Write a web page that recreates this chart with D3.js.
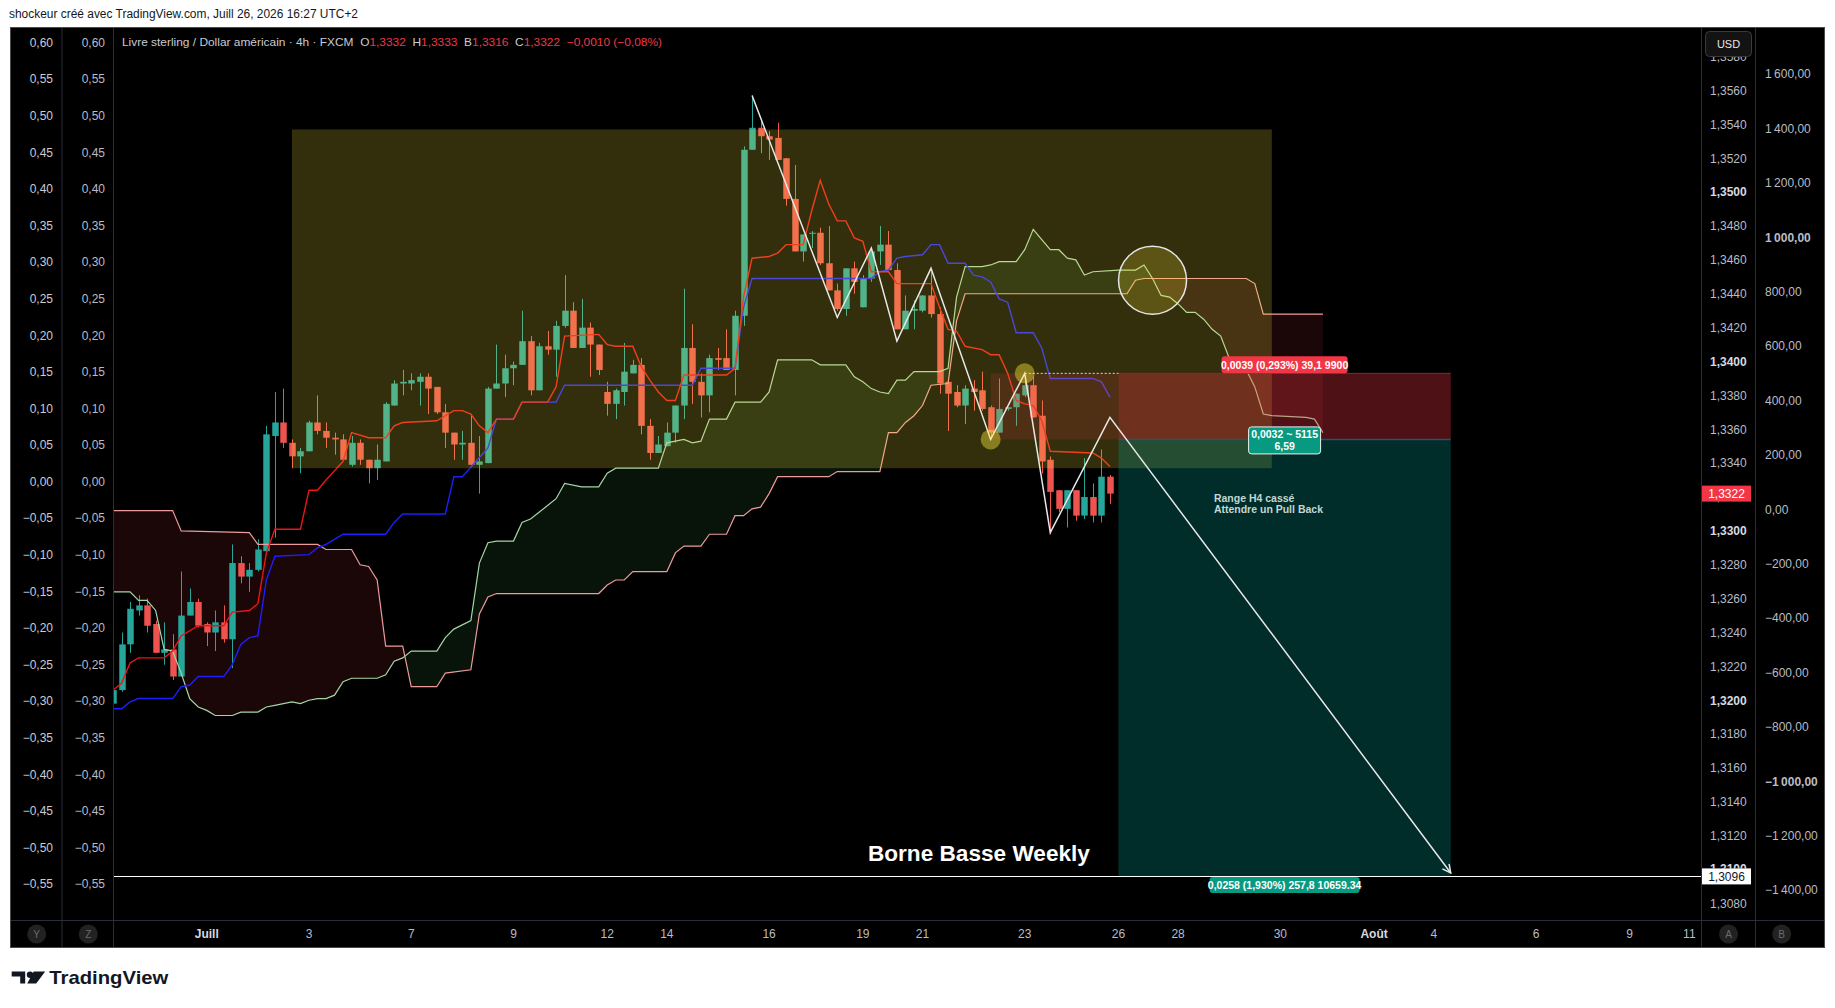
<!DOCTYPE html>
<html>
<head>
<meta charset="utf-8">
<script src="https://cdn.jsdelivr.net/npm/d3@7"></script>
<style>
  body { margin: 0; background: #fff; }
  text { font-family: "Liberation Sans", Arial, sans-serif; }
</style>
</head>
<body>
<svg id="chart"></svg>
<script>
// GBP/USD 4h candles, bar 0 = first visible bar; [open, high, low, close]
var candles = [
  [1.3198,1.3208,1.3193,1.3206],[1.3206,1.3240,1.3205,1.3233],[1.3233,1.3258,1.3228,1.3254],[1.3253,1.3262,1.3250,1.3256],
  [1.3256,1.3260,1.3240,1.3244],[1.3245,1.3247,1.3228,1.3228],[1.3228,1.3246,1.3221,1.3230],[1.3230,1.3239,1.3212,1.3214],
  [1.3214,1.3276,1.3214,1.3250],[1.3250,1.3266,1.3250,1.3258],[1.3258,1.3260,1.3243,1.3244],[1.3245,1.3246,1.3232,1.3240],
  [1.3240,1.3253,1.3229,1.3246],[1.3246,1.3256,1.3234,1.3236],[1.3236,1.3292,1.3219,1.3281],[1.3281,1.3285,1.3269,1.3273],
  [1.3273,1.3281,1.3264,1.3277],[1.3277,1.3295,1.3276,1.3289],[1.3288,1.3362,1.3286,1.3357],[1.3356,1.3382,1.3296,1.3364],
  [1.3364,1.3384,1.3349,1.3352],[1.3352,1.3354,1.3337,1.3344],[1.3344,1.3349,1.3334,1.3347],[1.3347,1.3365,1.3347,1.3364],
  [1.3364,1.3380,1.3357,1.3359],[1.3359,1.3364,1.3349,1.3355],[1.3355,1.3358,1.3345,1.3354],[1.3354,1.3357,1.3342,1.3342],
  [1.3339,1.3356,1.3338,1.3352],[1.3352,1.3354,1.3339,1.3342],[1.3342,1.3342,1.3328,1.3337],[1.3337,1.3351,1.3330,1.3342],
  [1.3341,1.3376,1.3341,1.3375],[1.3374,1.3389,1.3374,1.3387],[1.3387,1.3395,1.3380,1.3388],[1.3387,1.3393,1.3383,1.3389],
  [1.3388,1.3393,1.3374,1.3391],[1.3391,1.3393,1.3369,1.3384],[1.3385,1.3385,1.3369,1.3370],[1.3370,1.3375,1.3349,1.3358],
  [1.3358,1.3358,1.3342,1.3351],[1.3351,1.3359,1.3342,1.3352],[1.3352,1.3369,1.3339,1.3339],[1.3339,1.3356,1.3322,1.3341],
  [1.3340,1.3385,1.3340,1.3384],[1.3384,1.3410,1.3384,1.3387],[1.3387,1.3404,1.3379,1.3396],[1.3396,1.3400,1.3386,1.3398],
  [1.3398,1.3430,1.3398,1.3412],[1.3412,1.3415,1.3380,1.3383],[1.3383,1.3411,1.3383,1.3409],[1.3409,1.3418,1.3404,1.3407],
  [1.3407,1.3424,1.3391,1.3421],[1.3421,1.3451,1.3420,1.3430],[1.3430,1.3435,1.3408,1.3408],[1.3408,1.3437,1.3408,1.3420],
  [1.3420,1.3423,1.3391,1.3410],[1.3410,1.3410,1.3392,1.3395],[1.3382,1.3388,1.3368,1.3375],[1.3375,1.3384,1.3366,1.3383],
  [1.3382,1.3411,1.3374,1.3394],[1.3393,1.3401,1.3393,1.3398],[1.3398,1.3402,1.3357,1.3362],[1.3362,1.3366,1.3342,1.3346],
  [1.3346,1.3356,1.3346,1.3351],[1.3350,1.3364,1.3350,1.3358],[1.3358,1.3374,1.3352,1.3374],[1.3374,1.3443,1.3366,1.3408],
  [1.3408,1.3422,1.3375,1.3388],[1.3388,1.3393,1.3367,1.3380],[1.3380,1.3404,1.3370,1.3402],[1.3402,1.3408,1.3395,1.3401],
  [1.3402,1.3419,1.3395,1.3395],[1.3395,1.3430,1.3380,1.3427],[1.3427,1.3527,1.3421,1.3525],[1.3525,1.3557,1.3525,1.3538],
  [1.3538,1.3543,1.3523,1.3533],[1.3533,1.3536,1.3519,1.3531],[1.3532,1.3541,1.3519,1.3519],[1.3520,1.3520,1.3492,1.3496],
  [1.3496,1.3516,1.3465,1.3465],[1.3465,1.3475,1.3459,1.3475],[1.3476,1.3477,1.3467,1.3476],[1.3476,1.3479,1.3457,1.3458],
  [1.3458,1.3480,1.3442,1.3442],[1.3442,1.3446,1.3430,1.3431],[1.3431,1.3455,1.3427,1.3455],[1.3455,1.3459,1.3440,1.3447],
  [1.3432,1.3451,1.3432,1.3449],[1.3449,1.3467,1.3447,1.3465],[1.3465,1.3480,1.3457,1.3469],[1.3469,1.3477,1.3454,1.3454],
  [1.3454,1.3458,1.3419,1.3419],[1.3419,1.3439,1.3419,1.3430],[1.3430,1.3436,1.3419,1.3431],[1.3430,1.3439,1.3429,1.3439],
  [1.3439,1.3453,1.3426,1.3428],[1.3428,1.3432,1.3381,1.3387],[1.3388,1.3390,1.3359,1.3381],[1.3382,1.3386,1.3373,1.3374],
  [1.3374,1.3386,1.3363,1.3384],[1.3384,1.3389,1.3371,1.3382],[1.3383,1.3394,1.3371,1.3372],[1.3373,1.3374,1.3355,1.3358],
  [1.3358,1.3390,1.3358,1.3372],[1.3372,1.3373,1.3371,1.3373],[1.3373,1.3381,1.3362,1.3381],[1.3380,1.3392,1.3379,1.3386],
  [1.3386,1.3391,1.3367,1.3367],[1.3368,1.3377,1.3334,1.3341],[1.3342,1.3344,1.3298,1.3323],[1.3324,1.3324,1.3311,1.3313],
  [1.3313,1.3324,1.3302,1.3324],[1.3324,1.3324,1.3306,1.3309],[1.3309,1.3343,1.3307,1.3320],[1.3320,1.3328,1.3305,1.3309],
  [1.3309,1.3348,1.3305,1.3332],[1.3332,1.3333,1.3316,1.3322]
];

// Ichimoku lines, [bar, price] at each corner of the line
var tenkan = [[0,1.3206],[1,1.3210],[2,1.3222],[3,1.3225],[6,1.3225],[7,1.3229],[8,1.3238],[10,1.3244],[13,1.3244],
  [14,1.3252],[16,1.3253],[17,1.3257],[18,1.3287],[19,1.3301],[22,1.3301],[23,1.3324],[24,1.3324],[25,1.3330],
  [27,1.3341],[28,1.3358],[30,1.3355],[32,1.3355],[33,1.3362],[34,1.3364],[38,1.3365],[40,1.3371],[41,1.3371],
  [42,1.3369],[43,1.3362],[44,1.3358],[45,1.3366],[47,1.3366],[48,1.3376],[51,1.3376],[52,1.3385],[53,1.3415],
  [57,1.3416],[58,1.3410],[59,1.3409],[61,1.3409],[62,1.3397],[63,1.3389],[64,1.3382],[65,1.3377],[66,1.3377],
  [67,1.3392],[72,1.3392],[73,1.3396],[74,1.3438],[75,1.3461],[77,1.3462],[78,1.3464],[79,1.3469],[81,1.3469],
  [82,1.3489],[83,1.3507],[84,1.3493],[85,1.3483],[86,1.3483],[87,1.3473],[88,1.3471],[89,1.3453],[91,1.3453],
  [92,1.3446],[96,1.3446],[97,1.3432],[98,1.3419],[99,1.3418],[100,1.3409],[102,1.3407],[103,1.3404],[104,1.3404],
  [105,1.3393],[106,1.3377],[107,1.3375],[108,1.3374],[109,1.3365],[110,1.3347],[115,1.3346],[116,1.3343],[117,1.3338]];

var kijun = [[0,1.3195],[1,1.3195],[2,1.3199],[3,1.3201],[7,1.3201],[8,1.3208],[9,1.3209],[10,1.3214],[13,1.3214],
  [14,1.3221],[15,1.3233],[16,1.3237],[17,1.3238],[18,1.3271],[19,1.3285],[23,1.3286],[24,1.3290],[25,1.3292],
  [27,1.3298],[32,1.3298],[33,1.3305],[34,1.3310],[39,1.3310],[40,1.3332],[41,1.3332],[44,1.3349],[45,1.3366],
  [47,1.3366],[48,1.3376],[52,1.3376],[53,1.3386],[68,1.3386],[69,1.3396],[73,1.3396],[74,1.3432],[75,1.3449],
  [89,1.3449],[90,1.3453],[91,1.3454],[92,1.3461],[93,1.3462],[95,1.3463],[96,1.3469],[97,1.3469],[98,1.3458],
  [100,1.3458],[101,1.3451],[102,1.3450],[103,1.3447],[104,1.3437],[105,1.3435],[106,1.3417],[108,1.3417],
  [109,1.3408],[110,1.3390],[115,1.3390],[116,1.3388],[117,1.3379]];

var spanA = [[0,1.3264],[2,1.3264],[3,1.3259],[4,1.3259],[5,1.3253],[6,1.3230],[7,1.3229],[8,1.3216],[9,1.3201],
  [10,1.3196],[11,1.3194],[12,1.3191],[14,1.3191],[15,1.3193],[17,1.3193],[18,1.3196],[19,1.3197],[21,1.3199],
  [22,1.3198],[23,1.3200],[24,1.3201],[25,1.3201],[26,1.3203],[27,1.3211],[28,1.3213],[31,1.3213],[32,1.3215],
  [33,1.3223],[34,1.3225],[35,1.3229],[38,1.3229],[39,1.3237],[40,1.3242],[42,1.3247],[43,1.3281],[44,1.3293],
  [45,1.3294],[47,1.3294],[48,1.3305],[49,1.3307],[50,1.3311],[51,1.3315],[52,1.3319],[53,1.3328],[55,1.3326],
  [57,1.3326],[58,1.3334],[59,1.3337],[64,1.3337],[65,1.3352],[67,1.3354],[68,1.3352],[69,1.3353],[70,1.3366],
  [72,1.3366],[73,1.3376],[76,1.3376],[77,1.3382],[78,1.3401],[82,1.3401],[83,1.3398],[86,1.3398],[87,1.3391],
  [88,1.3388],[89,1.3384],[90,1.3382],[91,1.3381],[92,1.3389],[93,1.3389],[94,1.3394],[97,1.3394],[98,1.3396],
  [99,1.3438],[100,1.3456],[102,1.3456],[103,1.3457],[104,1.3459],[106,1.3459],[107,1.3466],[108,1.3478],
  [109,1.3472],[110,1.3466],[111,1.3466],[112,1.3461],[113,1.3460],[114,1.3451],[115,1.3453],[118,1.3454],
  [120,1.3454],[121,1.3457],[122,1.3449],[123,1.3439],[124,1.3438],[125,1.3434],[126,1.3429],[127,1.3429],
  [128,1.3425],[129,1.3419],[130,1.3415],[131,1.3402],[133,1.3395],[134,1.3385],[135,1.3369],[136,1.3368],
  [140,1.3367],[141,1.3366],[142,1.3358]];

var spanB = [[0,1.3312],[7,1.3312],[8,1.3300],[16,1.3299],[17,1.3292],[24,1.3292],[25,1.3289],[28,1.3289],
  [29,1.3280],[30,1.3279],[31,1.3271],[32,1.3232],[34,1.3232],[35,1.3208],[38,1.3208],[39,1.3216],[42,1.3218],
  [43,1.3251],[44,1.3261],[45,1.3263],[57,1.3263],[58,1.3268],[59,1.3271],[60,1.3271],[61,1.3276],[65,1.3276],
  [66,1.3287],[67,1.3291],[69,1.3291],[70,1.3298],[72,1.3298],[73,1.3309],[74,1.3309],[75,1.3313],[76,1.3314],
  [77,1.3322],[78,1.3332],[84,1.3332],[85,1.3335],[90,1.3335],[91,1.3358],[92,1.3358],[93,1.3364],[94,1.3368],
  [95,1.3374],[96,1.3386],[98,1.3387],[99,1.3424],[100,1.3440],[119,1.3440],[120,1.3448],[121,1.3449],
  [133,1.3449],[134,1.3446],[135,1.3428],[142,1.3428]];

// drawings
var zigzag = [[75,1.3557],[85,1.3426],[89,1.3467],[92,1.3412],[96,1.3455],[103,1.3354],[107,1.3393],[110,1.3299],[117,1.3367],[157,1.3098]];
var rangeBox = [21, 136, 1.3337, 1.3537];
var pullbackZone = [103, 118, 1.3354, 1.3393];
var positionBars = [118, 157];
var positionPrices = [1.3354, 1.3393, 1.3096]; // entry, stop, target
var positionTexts = ["0,0039 (0,293%) 39,1 9900", "0,0032 ~ 5115", "6,59", "0,0258 (1,930%) 257,8 10659.34"];
var pivotDots = [[103,1.3354],[107,1.3393]];
var bigCircle = [122, 1.3448];
var weeklyLow = 1.3096;
var lastPrice = 1.3322;
var noteLines = ["Range H4 cassé", "Attendre un Pull Back"];
var noteAt = [129.2, 1.3317];
var weeklyText = "Borne Basse Weekly";
var weeklyTextAt = [88.6, 1.3105];

// axes
var timeTicks = [[11,"Juill"],[23,"3"],[35,"7"],[47,"9"],[58,"12"],[65,"14"],[77,"16"],[88,"19"],[95,"21"],
  [107,"23"],[118,"26"],[125,"28"],[137,"30"],[148,"Août"],[155,"4"],[167,"6"],[178,"9"],[185,"11"]];
var priceTicks = d3.range(0, 26).map(function(k) { return 1.3080 + k * 0.002; });
var pctTicks = d3.range(-11, 13).map(function(k) { return k * 0.05; });
var pnlTicks = d3.range(-7, 9).map(function(k) { return k * 200; });

var W = 1835, H = 1008;
var plotL = 113.3, plotR = 1701.7, plotT = 28, plotB = 920.5;
var NB = "\u00a0";

var fr = d3.formatLocale({ decimal: ",", thousands: "\u2009", grouping: [3], currency: ["", ""], minus: "\u2212" });
var fmt4 = fr.format(".4f"), fmt2 = fr.format(".2f"), fmtK = fr.format(",.2f");

var x = d3.scaleLinear().domain([0, 186.45]).range([113, 1701.7]);
var y = d3.scaleLinear().domain([1.3080, 1.3560]).range([903.5, 90.5]);
var yPct = d3.scaleLinear().domain([-0.55, 0.60]).range([884, 42.5]);
var yPnl = d3.scaleLinear().domain([-1400, 1600]).range([890, 74]);

var svg = d3.select("#chart").attr("width", W).attr("height", H);
svg.append("rect").attr("width", W).attr("height", H).attr("fill", "#fff");

function fit(sel, w) {
  sel.attr("textLength", w).attr("lengthAdjust", "spacingAndGlyphs");
}

// title
svg.append("text").attr("x", 9).attr("y", 18).attr("font-size", 12).attr("fill", "#131722")
  .text("shockeur créé avec TradingView.com, Juill 26, 2026 16:27 UTC+2").call(fit, 349);

// frame
svg.append("rect").attr("x", 10.5).attr("y", 27.5).attr("width", 1814).attr("height", 920)
  .attr("fill", "#000").attr("stroke", "#4a4a4a");

var defs = svg.append("defs");
defs.append("clipPath").attr("id", "plotClip").append("rect")
  .attr("x", plotL).attr("y", plotT).attr("width", plotR - plotL).attr("height", plotB - plotT);

var plot = svg.append("g").attr("clip-path", "url(#plotClip)");
var line = d3.line().x(function(d) { return x(d[0]); }).y(function(d) { return y(d[1]); });

// cloud fill: green where span A is above span B, red where below
var ptsB = spanB.map(function(d) { return [x(d[0]), y(d[1])]; });
var rawLine = d3.line();
var aboveB = rawLine([[ptsB[0][0], 0]].concat(ptsB, [[ptsB[ptsB.length - 1][0], 0]])) + "Z";
var belowB = rawLine([[ptsB[0][0], H]].concat(ptsB, [[ptsB[ptsB.length - 1][0], H]])) + "Z";
defs.append("clipPath").attr("id", "aboveB").append("path").attr("d", aboveB);
defs.append("clipPath").attr("id", "belowB").append("path").attr("d", belowB);
var between = line(spanA.concat(spanB.slice().reverse())) + "Z";
plot.append("g").attr("clip-path", "url(#aboveB)").append("path").attr("d", between)
  .attr("fill", "rgba(76,175,80,0.11)");
plot.append("g").attr("clip-path", "url(#belowB)").append("path").attr("d", between)
  .attr("fill", "rgba(242,54,69,0.11)");

// candles
var bw = (x(1) - x(0)) * 0.76;
var cg = plot.append("g");
candles.forEach(function(c, i) {
  var up = c[3] >= c[0];
  var col = up ? "#26a69a" : "#ef5350";
  var cx = Math.round(x(i)) + 0.5;
  cg.append("line").attr("x1", cx).attr("x2", cx).attr("y1", y(c[1])).attr("y2", y(c[2]))
    .attr("stroke", col).attr("stroke-width", 1);
  var top = y(Math.max(c[0], c[3])), bot = y(Math.min(c[0], c[3]));
  cg.append("rect").attr("x", cx - bw / 2).attr("y", top).attr("width", bw)
    .attr("height", Math.max(1, bot - top)).attr("fill", col);
});

// ichimoku lines
[[spanA, "#a5d6a7", 1.2], [spanB, "#ef9a9a", 1.2], [kijun, "#1e1eff", 1.4], [tenkan, "#ec1414", 1.4]]
  .forEach(function(s) {
    plot.append("path").attr("d", line(s[0])).attr("fill", "none")
      .attr("stroke", s[1]).attr("stroke-width", s[2]);
  });

// range box
plot.append("rect").attr("x", x(rangeBox[0])).attr("width", x(rangeBox[1]) - x(rangeBox[0]))
  .attr("y", y(rangeBox[3])).attr("height", y(rangeBox[2]) - y(rangeBox[3]))
  .attr("fill", "rgba(255,235,59,0.2)");

// pull back zone
plot.append("rect").attr("x", x(pullbackZone[0])).attr("width", x(pullbackZone[1]) - x(pullbackZone[0]))
  .attr("y", y(pullbackZone[3])).attr("height", y(pullbackZone[2]) - y(pullbackZone[3]))
  .attr("fill", "rgba(242,54,69,0.15)");

// short position
var px0 = x(positionBars[0]), px1 = x(positionBars[1]);
var yEntry = y(positionPrices[0]), yStop = y(positionPrices[1]), yTarget = y(positionPrices[2]);
plot.append("rect").attr("x", px0).attr("width", px1 - px0).attr("y", yStop).attr("height", yEntry - yStop)
  .attr("fill", "rgba(242,54,69,0.32)");
plot.append("rect").attr("x", px0).attr("width", px1 - px0).attr("y", yEntry).attr("height", yTarget - yEntry)
  .attr("fill", "rgba(0,150,140,0.29)");
plot.append("line").attr("x1", px0).attr("x2", px1).attr("y1", yStop).attr("y2", yStop)
  .attr("stroke", "#8c2a2a").attr("stroke-width", 1);
plot.append("line").attr("x1", px0).attr("x2", px1).attr("y1", yEntry).attr("y2", yEntry)
  .attr("stroke", "#2b5070").attr("stroke-width", 1.5);

// weekly low line
plot.append("line").attr("x1", plotL).attr("x2", plotR).attr("y1", Math.round(y(weeklyLow)) + 0.5)
  .attr("y2", Math.round(y(weeklyLow)) + 0.5).attr("stroke", "#fff").attr("stroke-width", 1);

// dotted stop level from last pivot
plot.append("line").attr("x1", x(zigzag[6][0])).attr("x2", px0).attr("y1", yStop).attr("y2", yStop)
  .attr("stroke", "#d8d8d8").attr("stroke-width", 1).attr("stroke-dasharray", "2,2");

// zigzag with arrow
defs.append("marker").attr("id", "arrow").attr("viewBox", "0 0 10 10").attr("refX", 9).attr("refY", 5)
  .attr("markerWidth", 7).attr("markerHeight", 7).attr("orient", "auto")
  .append("path").attr("d", "M1,1 L9,5 L1,9").attr("fill", "none").attr("stroke", "#e8e8e8").attr("stroke-width", 1.4);
plot.append("path").attr("d", line(zigzag)).attr("fill", "none").attr("stroke", "#e8e8e8")
  .attr("stroke-width", 1.5).attr("marker-end", "url(#arrow)");

// circles
pivotDots.forEach(function(d) {
  plot.append("circle").attr("cx", x(d[0])).attr("cy", y(d[1])).attr("r", 10)
    .attr("fill", "rgba(255,235,59,0.42)");
});
plot.append("circle").attr("cx", x(bigCircle[0])).attr("cy", y(bigCircle[1])).attr("r", 34)
  .attr("fill", "rgba(255,235,59,0.2)").attr("stroke", "#e6e6e6").attr("stroke-width", 1.5);

// position labels
var pmid = (px0 + px1) / 2;
function label(g, cx, top, w, h, fill, lines, stroke) {
  g.append("rect").attr("x", cx - w / 2).attr("y", top).attr("width", w).attr("height", h)
    .attr("rx", 3).attr("fill", fill).attr("stroke", stroke || "none");
  lines.forEach(function(t, k) {
    g.append("text").attr("x", cx).attr("y", top + h / 2 + (k - (lines.length - 1) / 2) * 11.5)
      .attr("dy", "0.36em").attr("text-anchor", "middle").attr("font-size", 10.5)
      .attr("font-weight", "bold").attr("fill", "#fff").text(t);
  });
}
label(plot, pmid, yStop - 17, 126, 17, "#f23645", [positionTexts[0]]);
label(plot, pmid, yEntry - 12.5, 72, 27, "#089981", [positionTexts[1], positionTexts[2]], "#e8f3f1");
label(plot, pmid, yTarget + 0.5, 150, 16, "#089981", [positionTexts[3]]);

// notes
noteLines.forEach(function(t, k) {
  plot.append("text").attr("x", x(noteAt[0])).attr("y", y(noteAt[1]) + k * 11)
    .attr("font-size", 10.5).attr("font-weight", "bold").attr("fill", "#c3d6d2").text(t);
});
plot.append("text").attr("x", x(weeklyTextAt[0])).attr("y", y(weeklyTextAt[1]))
  .attr("font-size", 22).attr("font-weight", "bold").attr("fill", "#fff").text(weeklyText).call(fit, 222);

// header
var head = svg.append("text").attr("x", 122).attr("y", 46).attr("font-size", 11.5).attr("fill", "#c8cbd3");
head.append("tspan").text("Livre sterling / Dollar américain · 4h · FXCM");
var last = candles[candles.length - 1];
[["O", last[0]], ["H", last[1]], ["B", last[2]], ["C", last[3]]].forEach(function(p) {
  head.append("tspan").text(NB + NB + p[0]);
  head.append("tspan").attr("fill", "#f23645").text(fmt4(p[1]));
});
head.append("tspan").attr("fill", "#f23645")
  .text(NB + NB + fmt4(last[3] - last[0]) + " (" + fmt2((last[3] - last[0]) / last[0] * 100) + "%)");
head.call(fit, 540);

// separators
var sep = svg.append("g").attr("stroke", "#2a2e39").attr("stroke-width", 1);
[62, 113.5, 1701.5, 1755.5].forEach(function(sx) {
  sep.append("line").attr("x1", sx).attr("x2", sx).attr("y1", 28).attr("y2", 947);
});
sep.append("line").attr("x1", 11).attr("x2", 1824).attr("y1", 920.5).attr("y2", 920.5);

function styleAxis(g, col) {
  g.select(".domain").remove();
  g.selectAll("text").attr("font-size", 12).attr("fill", col)
    .attr("font-family", "'Liberation Sans', Arial, sans-serif");
}

// left percent scales
[[56, "#c9ccd4"], [108, "#b9bcc5"]].forEach(function(c) {
  svg.append("g").attr("transform", "translate(" + c[0] + ",0)")
    .call(d3.axisLeft(yPct).tickValues(pctTicks).tickSize(0).tickPadding(3).tickFormat(fmt2))
    .call(styleAxis, c[1]);
});

// price scale; the tick hidden behind the weekly tag only shows its top
defs.append("clipPath").attr("id", "aboveTag").append("rect")
  .attr("x", -10).attr("y", 0).attr("width", 80).attr("height", y(weeklyLow) - 8);
var pax = svg.append("g").attr("transform", "translate(1702,0)")
  .call(d3.axisRight(y).tickValues(priceTicks).tickSize(0).tickPadding(8).tickFormat(fmt4))
  .call(styleAxis, "#b9bcc5");
pax.selectAll("text").filter(function(d) { return Math.round(d * 10000) % 100 === 0; })
  .attr("font-weight", "bold").attr("fill", "#d6d9e0");
pax.selectAll(".tick").filter(function(d) { return Math.abs(y(d) - y(weeklyLow)) < 14; })
  .attr("clip-path", "url(#aboveTag)")
  .attr("transform", function(d) { return "translate(0," + y(d) + ")"; });
pax.selectAll(".tick").filter(function(d) { return Math.abs(y(d) - y(weeklyLow)) < 14; })
  .select("text").attr("transform", null);
defs.select("#aboveTag rect").attr("y", -40).attr("height", y(weeklyLow) - 8 - y(1.3100) + 40);

// P&L scale
var nax = svg.append("g").attr("transform", "translate(1755,0)")
  .call(d3.axisRight(yPnl).tickValues(pnlTicks).tickSize(0).tickPadding(10).tickFormat(fmtK))
  .call(styleAxis, "#b9bcc5");
nax.selectAll("text").filter(function(d) { return Math.abs(d) === 1000; }).attr("font-weight", "bold");

// USD button
svg.append("rect").attr("x", 1705.5).attr("y", 31.5).attr("width", 46).attr("height", 25).attr("rx", 4)
  .attr("fill", "#131313").attr("stroke", "#3a3a3a");
svg.append("text").attr("x", 1728.5).attr("y", 44).attr("dy", "0.35em").attr("text-anchor", "middle")
  .attr("font-size", 11).attr("fill", "#e8e8e8").text("USD");

// price tags
function priceTag(p, fill, col) {
  var yy = y(p);
  svg.append("rect").attr("x", 1702).attr("y", yy - 8).attr("width", 49).attr("height", 16).attr("fill", fill);
  svg.append("text").attr("x", 1726.5).attr("y", yy).attr("dy", "0.36em").attr("text-anchor", "middle")
    .attr("font-size", 12).attr("fill", col).text(fmt4(p));
}
priceTag(lastPrice, "#f23645", "#fff");
priceTag(weeklyLow, "#fff", "#131722");

// time axis
timeTicks.forEach(function(t) {
  var major = isNaN(+t[1]);
  svg.append("text").attr("x", x(t[0])).attr("y", 934).attr("dy", "0.36em").attr("text-anchor", "middle")
    .attr("font-size", 12).attr("font-weight", major ? "bold" : "normal")
    .attr("fill", major ? "#d6d9e0" : "#b9bcc5").text(t[1]);
});
[[36.7, "Y"], [88.3, "Z"], [1728.5, "A"], [1781.7, "B"]].forEach(function(b) {
  svg.append("circle").attr("cx", b[0]).attr("cy", 934).attr("r", 9.5).attr("fill", "#222");
  svg.append("text").attr("x", b[0]).attr("y", 934).attr("dy", "0.36em").attr("text-anchor", "middle")
    .attr("font-size", 10).attr("fill", "#6c6c6c").text(b[1]);
});

// TradingView logo
var logo = svg.append("g").attr("transform", "translate(11.7,971.5)").attr("fill", "#131722");
logo.append("path").attr("d", "M0,0 H13.5 V12 H8.5 V5 H0 Z");
logo.append("circle").attr("cx", 18.3).attr("cy", 3.2).attr("r", 3.2);
logo.append("path").attr("d", "M22,0 H33.5 L24.5,12 H15.5 Z");
svg.append("text").attr("x", 49.3).attr("y", 984).attr("font-size", 19).attr("font-weight", "bold")
  .attr("fill", "#131722").text("TradingView").call(fit, 119);
</script>
</body>
</html>
